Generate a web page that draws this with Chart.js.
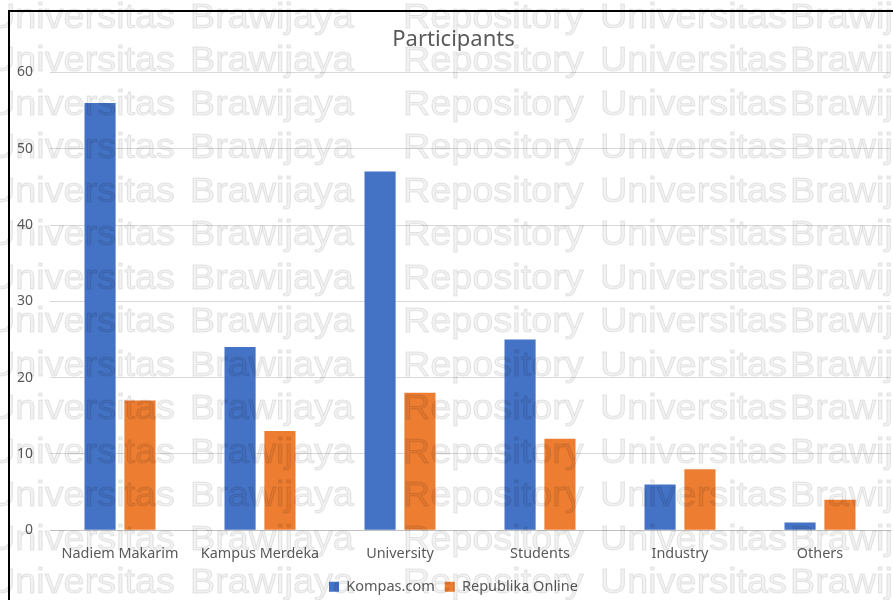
<!DOCTYPE html>
<html lang="en">

<head>
    <meta charset="UTF-8">
    <script src="https://cdn.jsdelivr.net/npm/chart.js"></script>
    <title>Participants</title>
    <style>
        body { margin: 0; background: #fff; }
        #wrap { width: 893px; height: 600px; overflow: hidden; position: relative; }
        #participantsChart { position: absolute; left: 0; top: 0; }
    </style>
</head>

<body>
    <div id="wrap">
        <canvas id="participantsChart" width="903" height="600"></canvas>
    </div>
    <script>
        const categories = ["Nadiem Makarim", "Kampus Merdeka", "University", "Students", "Industry", "Others"];
        const kompas = [56, 24, 47, 25, 6, 1];
        const republika = [17, 13, 18, 12, 8, 4];
        const seriesNames = ["Kompas.com", "Republika Online"];
        const yTicks = [0, 10, 20, 30, 40, 50, 60];
        const watermarkWords = ["Universitas", "Brawijaya", "Repository", "Universitas", "Brawijaya"];
        const watermarkX = [-12, 190, 403, 600, 790];

        const font = "'Noto Sans', 'DejaVu Sans', sans-serif";

        // frame line on the left and top, then the faint repository watermark on top of everything
        const pagePlugin = {
            id: "page",
            beforeDraw(chart) {
                const ctx = chart.ctx;
                ctx.save();
                ctx.fillStyle = "#000";
                ctx.fillRect(8, 10, 2, chart.height);
                ctx.fillRect(8, 10, chart.width, 2);
                ctx.restore();
            },
            afterDraw(chart) {
                const ctx = chart.ctx;
                ctx.save();
                ctx.font = "35px 'Liberation Sans', Arial, sans-serif";
                ctx.fillStyle = "rgba(0, 0, 0, 0.05)";
                ctx.strokeStyle = "rgba(0, 0, 0, 0.1)";
                ctx.lineWidth = 1;
                for (let y = 18; y < chart.height + 40; y += 43.5) {
                    watermarkWords.forEach((w, i) => {
                        ctx.setTransform(1.08, 0, 0, 1, watermarkX[i], y);
                        ctx.fillText(w, 0, 0);
                        ctx.strokeText(w, 0, 0);
                    });
                }
                ctx.restore();
            }
        };

        new Chart(document.getElementById("participantsChart"), {
            type: "bar",
            data: {
                labels: categories,
                datasets: [{
                    label: seriesNames[0],
                    data: kompas,
                    backgroundColor: "#4472C4",
                    categoryPercentage: 0.57,
                    barPercentage: 0.78
                }, {
                    label: seriesNames[1],
                    data: republika,
                    backgroundColor: "#ED7D31",
                    categoryPercentage: 0.57,
                    barPercentage: 0.78
                }]
            },
            plugins: [pagePlugin],
            options: {
                responsive: false,
                animation: false,
                devicePixelRatio: 1,
                layout: {
                    padding: { left: 17, right: 13, top: 12, bottom: -4 }
                },
                scales: {
                    x: {
                        grid: { display: false },
                        border: { color: "#bfbfbf", width: 1 },
                        ticks: { color: "#595959", font: { family: font, size: 14.4 }, padding: 7, maxRotation: 0 }
                    },
                    y: {
                        min: 0,
                        max: 60,
                        afterBuildTicks(axis) {
                            axis.ticks = yTicks.map(v => ({ value: v }));
                        },
                        afterFit(axis) {
                            axis.width = 33;
                        },
                        grid: { color: "#d9d9d9", drawTicks: false },
                        border: { display: false },
                        ticks: { color: "#595959", font: { family: font, size: 14 }, padding: 17 }
                    }
                },
                plugins: {
                    title: {
                        display: true,
                        text: "Participants",
                        color: "#595959",
                        font: { family: font, size: 22, weight: "normal" },
                        padding: { top: 15, bottom: 19 }
                    },
                    legend: {
                        position: "bottom",
                        labels: {
                            color: "#595959",
                            font: { family: font, size: 14.5 },
                            boxWidth: 10,
                            boxHeight: 10,
                            padding: 10
                        }
                    },
                    tooltip: { enabled: false }
                }
            }
        });
    </script>
</body>

</html>
